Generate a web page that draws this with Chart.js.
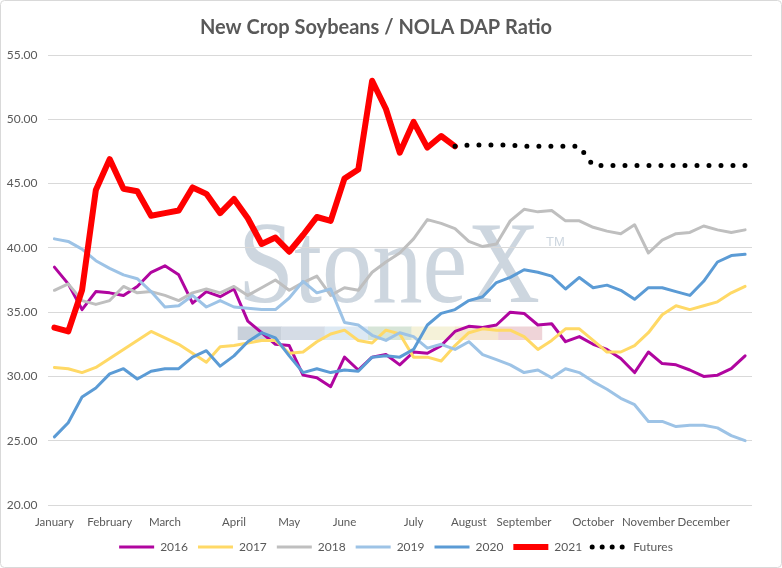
<!DOCTYPE html>
<html lang="en">
<head>
<meta charset="UTF-8">
<title>New Crop Soybeans / NOLA DAP Ratio</title>
<script src="https://cdn.jsdelivr.net/npm/chart.js"></script>
<style>
  html, body { margin: 0; padding: 0; background: #fff; }
  #wrap { width: 782px; height: 568px; position: relative; }
</style>
</head>
<body>
<div id="wrap"><canvas id="ratioChart"></canvas></div>
<script>
// weekly categories, month name on the first week of each month
const monthNames = ['January', 'February', 'March', 'April', 'May', 'June',
  'July', 'August', 'September', 'October', 'November', 'December'];
const monthStartWeek = [0, 4, 8, 13, 17, 21, 26, 30, 34, 39, 43, 47];
const weekCount = 51;

const yMin = 20;
const yMax = 55;
const yStep = 5;

const ratio2016 = [38.5, 37.2, 35.2, 36.6, 36.5, 36.3, 37.0, 38.1, 38.6, 37.9, 35.7, 36.6, 36.2, 36.8,
  34.3, 33.4, 32.5, 32.4, 30.1, 29.9, 29.2, 31.5, 30.5, 31.5, 31.7, 30.9, 31.9, 31.8,
  32.4, 33.5, 33.9, 33.8, 34.0, 35.0, 34.9, 34.0, 34.1, 32.7, 33.1, 32.5, 32.1,
  31.4, 30.3, 31.9, 31.0, 30.9, 30.5, 30.0, 30.1, 30.6, 31.6];
const ratio2017 = [30.7, 30.6, 30.3, 30.7, 31.4, 32.1, 32.8, 33.5, 33.0, 32.5, 31.8, 31.1, 32.3, 32.4,
  32.6, 32.8, 32.8, 31.8, 31.9, 32.7, 33.3, 33.6, 32.8, 32.6, 33.6, 33.3, 31.5, 31.5,
  31.2, 32.4, 33.4, 33.7, 33.6, 33.6, 33.1, 32.1, 32.8, 33.7, 33.7, 32.8, 31.9,
  31.9, 32.4, 33.4, 34.8, 35.5, 35.2, 35.5, 35.8, 36.5, 37.0];
const ratio2018 = [36.7, 37.2, 35.9, 35.6, 35.9, 37.0, 36.5, 36.6, 36.3, 35.9, 36.5, 36.8, 36.5, 37.0,
  36.3, 36.9, 37.5, 36.7, 37.3, 37.8, 36.3, 36.9, 36.7, 38.1, 38.9, 39.6, 40.7, 42.2,
  41.9, 41.5, 40.5, 40.1, 40.3, 42.1, 43.0, 42.8, 42.9, 42.1, 42.1, 41.6, 41.3,
  41.1, 41.8, 39.6, 40.6, 41.1, 41.2, 41.7, 41.4, 41.2, 41.4];
const ratio2019 = [40.7, 40.5, 39.9, 39.0, 38.4, 37.9, 37.6, 36.6, 35.4, 35.5, 36.3, 35.4, 35.9, 35.4,
  35.3, 35.2, 35.2, 36.1, 37.4, 36.5, 36.8, 34.2, 34.0, 33.2, 32.8, 33.4, 33.1, 32.2,
  32.5, 32.1, 32.7, 31.7, 31.3, 30.9, 30.3, 30.5, 29.9, 30.6, 30.3, 29.6, 29.0,
  28.3, 27.8, 26.5, 26.5, 26.1, 26.2, 26.2, 26.0, 25.4, 25.0];
const ratio2020 = [25.3, 26.4, 28.4, 29.1, 30.2, 30.6, 29.8, 30.4, 30.6, 30.6, 31.5, 32.0, 30.8, 31.6,
  32.7, 33.4, 33.0, 31.6, 30.3, 30.6, 30.3, 30.5, 30.4, 31.5, 31.6, 31.5, 32.1, 34.0,
  34.9, 35.2, 35.9, 36.2, 37.3, 37.7, 38.3, 38.1, 37.8, 36.8, 37.7, 36.9, 37.1,
  36.7, 36.0, 36.9, 36.9, 36.6, 36.3, 37.4, 38.9, 39.4, 39.5];
const ratio2021 = [33.8, 33.5, 36.7, 44.5, 46.9, 44.6, 44.4, 42.5, 42.7, 42.9, 44.7, 44.2, 42.7, 43.8,
  42.3, 40.3, 40.8, 39.7, 41.0, 42.4, 42.1, 45.4, 46.1, 53.0, 50.8, 47.4, 49.8, 47.8,
  48.7, 47.9, null, null, null, null, null, null, null, null, null, null, null,
  null, null, null, null, null, null, null, null, null, null];
const ratioFutures = [null, null, null, null, null, null, null, null, null, null, null, null, null, null,
  null, null, null, null, null, null, null, null, null, null, null, null, null, null,
  null, 47.9, 48.0, 48.0, 48.0, 48.0, 47.9, 47.9, 47.9, 47.9, 47.9, 46.4, 46.4,
  46.4, 46.4, 46.4, 46.4, 46.4, 46.4, 46.4, 46.4, 46.4, 46.4];

const weekLabels = [];
for (let i = 0; i < weekCount; i++) {
  const m = monthStartWeek.indexOf(i);
  weekLabels.push(m >= 0 ? monthNames[m] : '');
}

const FONT = 'Lato, "Liberation Sans", sans-serif';
const TEXT = '#595959';

function series(label, data, color, width, order) {
  return {
    label: label,
    data: data,
    borderColor: color,
    backgroundColor: color,
    borderWidth: width,
    pointRadius: 0,
    pointHoverRadius: 0,
    tension: 0,
    borderJoinStyle: 'round',
    borderCapStyle: 'round',
    order: order
  };
}

const futures = series('Futures', ratioFutures, '#000000', 5, 0);
futures.borderDash = [0, 12];

// StoneX background logo, legend placement and outer frame
const decor = {
  id: 'decor',
  beforeInit(chart) {
    const fit = chart.legend.fit;
    chart.legend.fit = function () {
      fit.call(this);
      this.height = 37;
    };
  },
  afterLayout(chart) {
    chart.legend.left += 20;
    chart.legend.right += 20;
  },
  beforeDraw(chart) {
    const ctx = chart.ctx;
    ctx.save();
    ctx.fillStyle = 'rgba(200,209,220,0.9)';
    ctx.font = '116px "Liberation Serif", "DejaVu Serif", serif';
    ctx.textBaseline = 'alphabetic';
    const w = ctx.measureText('StoneX').width;
    ctx.translate(238, 302);
    ctx.scale(302 / w, 1);
    ctx.fillText('StoneX', 0, 0);
    ctx.restore();

    ctx.save();
    ctx.fillStyle = 'rgba(200,209,220,0.9)';
    ctx.font = '13px "Liberation Sans", sans-serif';
    ctx.fillText('TM', 546, 242);
    const bar = ['#c9d1db', '#d5dce6', '#dde9f3', '#d7e5d8', '#f5f2d9', '#f6e6cf', '#efd4d8'];
    const segW = 304 / bar.length;
    bar.forEach((c, k) => {
      ctx.fillStyle = c;
      ctx.fillRect(237.7 + k * segW, 326.5, segW + 0.5, 13.5);
    });
    ctx.restore();
  },
  afterDraw(chart) {
    const ctx = chart.ctx;
    ctx.save();
    ctx.strokeStyle = '#d9d9d9';
    ctx.lineWidth = 1;
    ctx.beginPath();
    ctx.roundRect(0.5, 0.5, chart.width - 1, chart.height - 1, 4);
    ctx.stroke();
    ctx.restore();
  }
};

const ctx = document.getElementById('ratioChart').getContext('2d');
const ratioChart = new Chart(ctx, {
  type: 'line',
  data: {
    labels: weekLabels,
    datasets: [
      series('2016', ratio2016, '#B0059F', 3, 6),
      series('2017', ratio2017, '#FFD966', 3, 5),
      series('2018', ratio2018, '#BFBFBF', 3, 4),
      series('2019', ratio2019, '#9DC3E6', 3, 3),
      series('2020', ratio2020, '#5B9BD5', 3, 2),
      series('2021', ratio2021, '#FF0000', 6, 1),
      futures
    ]
  },
  options: {
    responsive: true,
    maintainAspectRatio: false,
    animation: false,
    layout: { padding: { left: 0, right: 30, top: 9, bottom: 0 } },
    plugins: {
      title: {
        display: true,
        text: 'New Crop Soybeans / NOLA DAP Ratio',
        color: TEXT,
        font: { family: FONT, size: 20, weight: 'bold' },
        padding: { top: 7, bottom: 15 }
      },
      legend: {
        position: 'bottom',
        labels: {
          color: TEXT,
          font: { family: FONT, size: 12 },
          usePointStyle: true,
          pointStyle: 'line',
          pointStyleWidth: 35,
          padding: 10,
          generateLabels(chart) {
            const items = Chart.defaults.plugins.legend.labels.generateLabels(chart);
            items.sort((a, b) => a.datasetIndex - b.datasetIndex);
            items.forEach(it => {
              it.pointStyle = 'line';
              if (it.text === 'Futures') {
                it.lineDash = [0, 10];
                it.lineWidth = 5;
                it.lineCap = 'round';
              } else {
                it.lineDash = [];
                it.lineCap = 'butt';
              }
            });
            return items;
          }
        }
      },
      tooltip: { enabled: false }
    },
    scales: {
      x: {
        offset: true,
        grid: { display: false, drawTicks: false },
        border: { display: false },
        ticks: {
          color: TEXT,
          font: { family: FONT, size: 11.5 },
          autoSkip: false,
          maxRotation: 0,
          minRotation: 0,
          padding: 10
        },
        afterFit(scale) { scale.height = 26; }
      },
      y: {
        min: yMin,
        max: yMax,
        grid: { color: '#d9d9d9', lineWidth: 1, drawTicks: false },
        border: { display: false },
        ticks: {
          stepSize: yStep,
          color: TEXT,
          font: { family: FONT, size: 12 },
          padding: 10,
          callback: v => v.toFixed(2)
        },
        afterFit(scale) { scale.width = 47.5; }
      }
    }
  },
  plugins: [decor]
});
</script>
</body>
</html>
